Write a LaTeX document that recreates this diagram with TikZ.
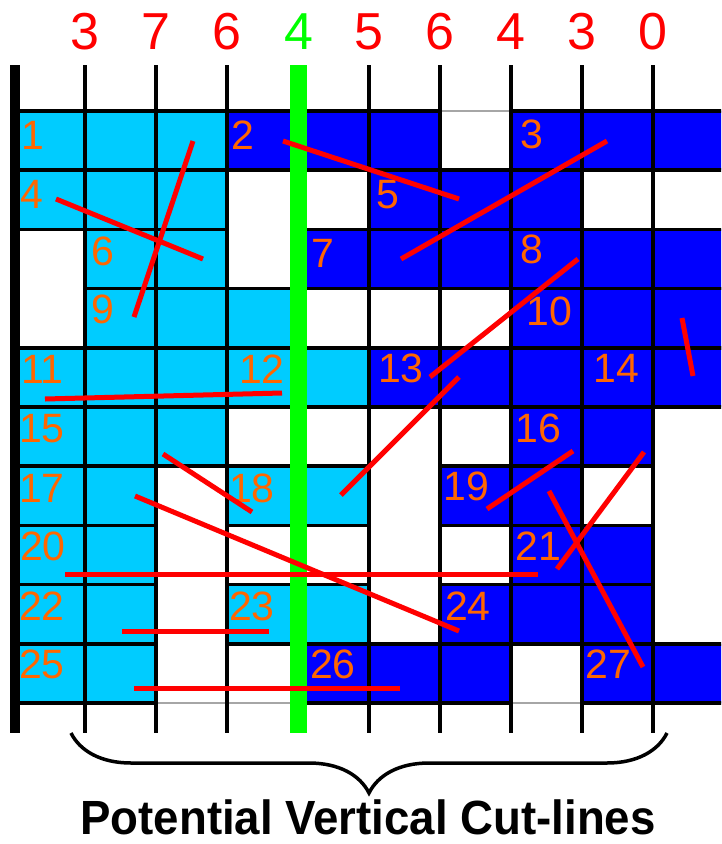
\documentclass[tikz,border=0pt]{standalone}
\usepackage{fontspec}
\setmainfont{Liberation Sans}
\usetikzlibrary{decorations.pathreplacing}

\definecolor{lightcell}{RGB}{0,204,255}
\definecolor{darkcell}{RGB}{0,0,255}
\definecolor{numorange}{RGB}{255,102,0}
\definecolor{cutgreen}{RGB}{0,255,0}

\begin{document}
\begin{tikzpicture}[
    x=1pt, y=-1pt,
    lbcell/.style={fill=lightcell, draw=black, line width=3.5pt},
    dbcell/.style={fill=darkcell, draw=black, line width=3.5pt},
    gridline/.style={black, line width=4pt},
    netline/.style={red, line width=5pt},
    cellnum/.style={anchor=base west, inner sep=0pt, text=numorange, font=\fontsize{41}{41}\selectfont},
    cutnum/.style={anchor=base, inner sep=0pt, font=\fontsize{52}{52}\selectfont},
]

\useasboundingbox (0,0) rectangle (721,844);

\begin{scope}
\clip (0,0) rectangle (721,844);

% Grid outline
\draw[gray!70, line width=1.5pt] (14,111) rectangle (740,703);

% Light blue cells (column/row)
\foreach \c/\r in {0/0,1/0,2/0, 0/1,1/1,2/1, 1/2,2/2, 1/3,2/3,3/3,
                   0/4,1/4,2/4,3/4,4/4, 0/5,1/5,2/5, 0/6,1/6,3/6,4/6,
                   0/7,1/7, 0/8,1/8,3/8,4/8, 0/9,1/9}
    \path[lbcell] ({14+71*\c},{111+59.2*\r}) rectangle ++(71,59.2);

% Dark blue cells (column/row)
\foreach \c/\r in {3/0,4/0,5/0,7/0,8/0,9/0, 5/1,6/1,7/1,
                   4/2,5/2,6/2,7/2,8/2,9/2, 7/3,8/3,9/3,
                   5/4,6/4,7/4,8/4,9/4, 7/5,8/5, 6/6,7/6, 7/7,8/7,
                   6/8,7/8,8/8, 4/9,5/9,6/9,8/9,9/9}
    \path[dbcell] ({14+71*\c},{111+59.2*\r}) rectangle ++(71,59.2);
\end{scope}

% Cell numbers
\foreach \n/\x/\y in {1/21/149, 2/231/149, 3/520/148, 4/20/208, 5/376/208,
                      6/91/265, 7/311/267, 8/520/263, 9/91/323, 10/526/325,
                      11/21/383, 12/239/383, 13/378/382, 14/593/382,
                      15/19/442, 16/515/442, 17/19/502, 18/229/502, 19/443/500,
                      20/20/560, 21/515/560, 22/19/620, 23/229/620, 24/445/620,
                      25/19/678, 26/310/678, 27/585/678}
    \node[cellnum] (n\n) at (\x,\y) {\n};

% Potential cut-lines
\foreach \k in {1,2,3,5,6,7,8,9}
    \draw[gridline] ({14+71*\k},65) -- ({14+71*\k},733);
\draw[black, line width=10pt] (15,65) -- (15,733);
\draw[cutgreen, line width=17pt] (298.5,65) -- (298.5,733);

% Nets
\foreach \xa/\ya/\xb/\yb in {193/141/134/317, 56/199/203/259, 283/141/459/199,
                             607/141/401/259, 578/259/430/377, 682/318/693/376,
                             45/399/282/393, 459/377/341/495, 163/454/252/512,
                             135/496/459/631, 65/574/538/574, 573/451/487/509,
                             644/452/557/569, 549/491/643/667, 122/631/269/631,
                             134/688/400/688}
    \draw[netline] (\xa,\ya) -- (\xb,\yb);

% Cut counts
\foreach \k/\v in {1/3,2/7,3/6,5/5,6/6,7/4,8/3,9/0}
    \node[cutnum, text=red] (cut\k) at ({14+71*\k},49) {\v};
\node[cutnum, text=cutgreen] (cut4) at (298.5,49) {4};

% Brace and caption
\draw[decorate, decoration={brace, amplitude=60pt}, line width=3.5pt]
    (667,733) -- (71,733);
\node[anchor=base, inner sep=0pt, font=\bfseries\fontsize{48}{48}\selectfont]
    (title) at (368,834) {\scalebox{0.95}[1]{Potential Vertical Cut-lines}};

\end{tikzpicture}
\end{document}
